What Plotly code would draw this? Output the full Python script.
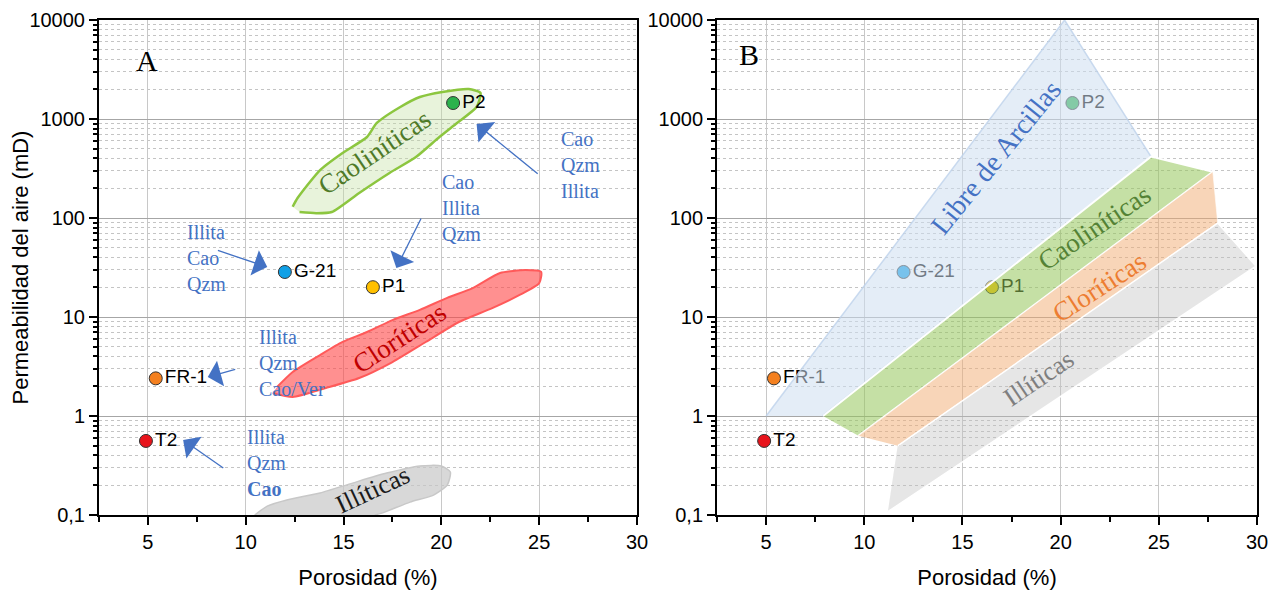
import plotly.graph_objects as go
import math

# ---------------- data ----------------
sample_names = ["P2", "G-21", "P1", "FR-1", "T2"]
porosity = [20.6, 12.0, 16.5, 5.4, 4.9]
permeability = [1450, 28.5, 20, 2.4, 0.56]
sample_colors = ["#2bb24c", "#10a0e6", "#ffc000", "#f4801f", "#e8141c"]

# Panel A blobs (porosity %, permeability mD)
caol_x = [12.4, 12.65, 13.8, 14.95, 16.2, 16.7, 17.9, 18.9, 20.05, 21.4, 22.0, 21.8, 20.8, 19.9, 18.7, 17.35, 15.8, 14.4, 13.6, 12.75]
caol_y = [130, 159, 305, 454, 658, 912, 1322, 1667, 1874, 2010, 1834, 1322, 912, 658, 413, 285, 179, 115, 112, 115]

clor_x = [11.38, 12.4, 14.1, 15.8, 17.5, 19.2, 20.9, 22.6, 24.0, 25.0, 25.1, 24.3, 23.0, 21.6, 20.3, 18.9, 17.5, 16.2, 14.95, 13.8, 12.4, 11.6]
clor_y = [1.71, 1.56, 1.92, 2.42, 3.51, 5.59, 8.9, 12.3, 16.7, 22.0, 28.5, 29.8, 27.8, 19.6, 15.6, 11.8, 9.3, 7.05, 5.6, 4.13, 2.78, 1.96]

illi_x = [10.46, 11.1, 12.1, 13.8, 15.46, 17.2, 18.9, 20.0, 20.46, 20.3, 19.6, 18.4, 17.1, 16.6]
illi_y = [0.1, 0.123, 0.142, 0.167, 0.21, 0.265, 0.313, 0.313, 0.272, 0.2, 0.159, 0.135, 0.107, 0.1]

# Panel B zones
libre_x = [5.0, 20.2, 24.6, 7.86]
libre_y = [1.0, 10000, 417, 1.0]
caolz_x = [7.9, 24.6, 27.75, 9.7]
caolz_y = [1.0, 417, 293, 0.63]
clorz_x = [9.7, 27.75, 28.0, 11.7]
clorz_y = [0.63, 293, 89, 0.5]
illiz_x = [11.7, 28.0, 29.95, 11.2]
illiz_y = [0.5, 89, 32.6, 0.108]

y_tickvals = [0.1, 1, 10, 100, 1000, 10000]
y_ticktext = ["0,1", "1", "10", "100", "1000", "10000"]
x_tickvals = [5, 10, 15, 20, 25, 30]
x_minor = [2.5, 7.5, 12.5, 17.5, 22.5, 27.5]
y_minor = [m * d for d in [0.1, 1, 10, 100, 1000] for m in range(2, 10)]

SANS = "Liberation Sans, Arial, sans-serif"
SERIF = "Liberation Serif, Times New Roman, serif"
BLUE = "#4472c4"

fig = go.Figure()

# ---------------- Panel A ----------------
fig.add_trace(go.Scatter(x=caol_x, y=caol_y, fill="toself", mode="lines",
                         fillcolor="rgba(197,224,165,0.4)",
                         line=dict(color="#8cc63f", width=2.5, shape="spline", smoothing=0.6),
                         xaxis="x", yaxis="y", hoverinfo="skip"))
fig.add_trace(go.Scatter(x=clor_x, y=clor_y, fill="toself", mode="lines",
                         fillcolor="rgba(255,70,70,0.6)",
                         line=dict(color="#ff5a5a", width=2, shape="spline", smoothing=0.6),
                         xaxis="x", yaxis="y", hoverinfo="skip"))
fig.add_trace(go.Scatter(x=illi_x, y=illi_y, fill="toself", mode="lines",
                         fillcolor="rgba(200,200,200,0.7)",
                         line=dict(color="#c8c8c8", width=1.5, shape="spline", smoothing=0.6),
                         xaxis="x", yaxis="y", hoverinfo="skip"))
fig.add_trace(go.Scatter(x=porosity, y=permeability, mode="markers+text",
                         text=sample_names, textposition="middle right",
                         textfont=dict(family=SANS, size=19, color="black"),
                         marker=dict(size=13, color=sample_colors, line=dict(color="#333333", width=1)),
                         xaxis="x", yaxis="y", hoverinfo="skip"))

# ---------------- Panel B ----------------
fig.add_trace(go.Scatter(x=porosity, y=permeability, mode="markers+text",
                         text=sample_names, textposition="middle right",
                         textfont=dict(family=SANS, size=19, color="black"),
                         marker=dict(size=13, color=sample_colors, line=dict(color="#333333", width=1)),
                         xaxis="x2", yaxis="y2", hoverinfo="skip"))
fig.add_trace(go.Scatter(x=libre_x, y=libre_y, fill="toself", mode="lines",
                         fillcolor="rgba(205,222,240,0.55)",
                         line=dict(color="rgba(190,210,235,0.8)", width=1.5),
                         xaxis="x2", yaxis="y2", hoverinfo="skip"))
fig.add_trace(go.Scatter(x=caolz_x, y=caolz_y, fill="toself", mode="lines",
                         fillcolor="rgba(150,199,91,0.55)",
                         line=dict(color="white", width=2),
                         xaxis="x2", yaxis="y2", hoverinfo="skip"))
fig.add_trace(go.Scatter(x=clorz_x, y=clorz_y, fill="toself", mode="lines",
                         fillcolor="rgba(241,171,113,0.5)",
                         line=dict(color="rgba(255,255,255,0.6)", width=1),
                         xaxis="x2", yaxis="y2", hoverinfo="skip"))
fig.add_trace(go.Scatter(x=illiz_x, y=illiz_y, fill="toself", mode="lines",
                         fillcolor="rgba(192,192,192,0.4)",
                         line=dict(color="white", width=1.5),
                         xaxis="x2", yaxis="y2", hoverinfo="skip"))

annotations = []
def txt(x, y, text, xref, yref, size, color, angle=0, family=SERIF, xanchor="center", align="center"):
    annotations.append(dict(x=x, y=math.log10(y), xref=xref, yref=yref, text=text, showarrow=False,
                            font=dict(family=family, size=size, color=color), textangle=angle,
                            xanchor=xanchor, yanchor="middle", align=align))

def arrow(x_tail, y_tail, x_head, y_head):
    annotations.append(dict(x=x_head, y=math.log10(y_head), ax=x_tail, ay=math.log10(y_tail),
                            xref="x", yref="y", axref="x", ayref="y", text="", showarrow=True,
                            arrowhead=1, arrowsize=3.4, arrowwidth=1.3, arrowcolor=BLUE, standoff=0))

# panel labels
txt(4.95, 10**3.596, "A", "x", "y", 30, "black")
txt(4.13, 10**3.655, "B", "x2", "y2", 30, "black")

# Panel A blob labels
txt(16.6, 10**2.667, "Caoliníticas", "x", "y", 27, "#4f7a28", -34)
txt(17.86, 10**0.788, "Cloríticas", "x", "y", 27, "#c00000", -33)
txt(16.53, 10**-0.747, "Illíticas", "x", "y", 26, "#1a1a1a", -25)

# Panel A mineral notes
txt(26.0, 10**2.535, "Cao<br>Qzm<br>Illita", "x", "y", 20, BLUE, xanchor="left", align="left")
txt(19.95, 10**2.10, "Cao<br>Illita<br>Qzm", "x", "y", 20, BLUE, xanchor="left", align="left")
txt(6.9, 10**1.596, "Illita<br>Cao<br>Qzm", "x", "y", 20, BLUE, xanchor="left", align="left")
txt(10.6, 10**0.535, "Illita<br>Qzm<br>Cao/Ver", "x", "y", 20, BLUE, xanchor="left", align="left")
txt(9.95, 10**-0.475, "Illita<br>Qzm<br><b>Cao</b>", "x", "y", 20, BLUE, xanchor="left", align="left")

arrow(25.0, 10**2.434, 21.8, 10**2.95)
arrow(19.0, 10**2.01, 17.7, 10**1.495)
arrow(8.5, 10**1.677, 11.1, 10**1.505)
arrow(9.54, 10**0.475, 8.06, 10**0.394)
arrow(8.93, 10**-0.535, 6.8, 10**-0.242)

# Panel B zone labels
txt(16.7, 10**2.61, "Libre de Arcillas", "x2", "y2", 28, BLUE, -51)
txt(21.7, 10**1.90, "Caoliníticas", "x2", "y2", 27, "#548235", -34)
txt(21.99, 10**1.30, "Cloríticas", "x2", "y2", 27, "#ed7d31", -33)
txt(18.88, 10**0.376, "Illíticas", "x2", "y2", 26, "#7f7f7f", -34)

def xaxis_cfg(domain):
    return dict(domain=domain, range=[2.5, 30], tickvals=x_tickvals, automargin=False,
                ticks="outside", ticklen=8, tickwidth=2, tickcolor="black",
                showgrid=True, gridcolor="#c8c8c8", gridwidth=1,
                showline=True, linecolor="black", linewidth=2, mirror=True, zeroline=False,
                minor=dict(tickmode="array", tickvals=x_minor, ticks="outside", ticklen=5,
                           tickwidth=2, tickcolor="black", showgrid=False),
                tickfont=dict(family=SANS, size=20, color="black"),
                title=dict(text="Porosidad (%)", font=dict(family=SANS, size=22, color="black"), standoff=18))

def yaxis_cfg(anchor, title):
    d = dict(type="log", range=[-1, 4], tickvals=y_tickvals, ticktext=y_ticktext, anchor=anchor,
             automargin=False,
             ticks="outside", ticklen=8, tickwidth=2, tickcolor="black",
             showgrid=True, gridcolor="#a6a6a6", gridwidth=1.2,
             showline=True, linecolor="black", linewidth=2, mirror=True, zeroline=False,
             minor=dict(tickmode="array", tickvals=y_minor, ticks="outside", ticklen=4, tickwidth=1.5,
                        tickcolor="black", showgrid=True, gridcolor="#c4c4c4", griddash="dot", gridwidth=1),
             tickfont=dict(family=SANS, size=20, color="black"))
    if title:
        d["title"] = dict(text=title, font=dict(family=SANS, size=22, color="black"), standoff=8)
    return d

# page body has an 8px default margin, so the figure is 8px smaller and margins compensate
fig.update_layout(
    width=1270, height=584,
    margin=dict(l=91, r=21, t=12, b=77),
    paper_bgcolor="white", plot_bgcolor="white",
    showlegend=False,
    xaxis=dict(xaxis_cfg([0, 0.4646]), anchor="y"),
    xaxis2=dict(xaxis_cfg([0.5337, 1]), anchor="y2"),
    yaxis=yaxis_cfg("x", "Permeabilidad del aire (mD)"),
    yaxis2=yaxis_cfg("x2", None),
    annotations=annotations,
)

fig.write_html("out.html")
